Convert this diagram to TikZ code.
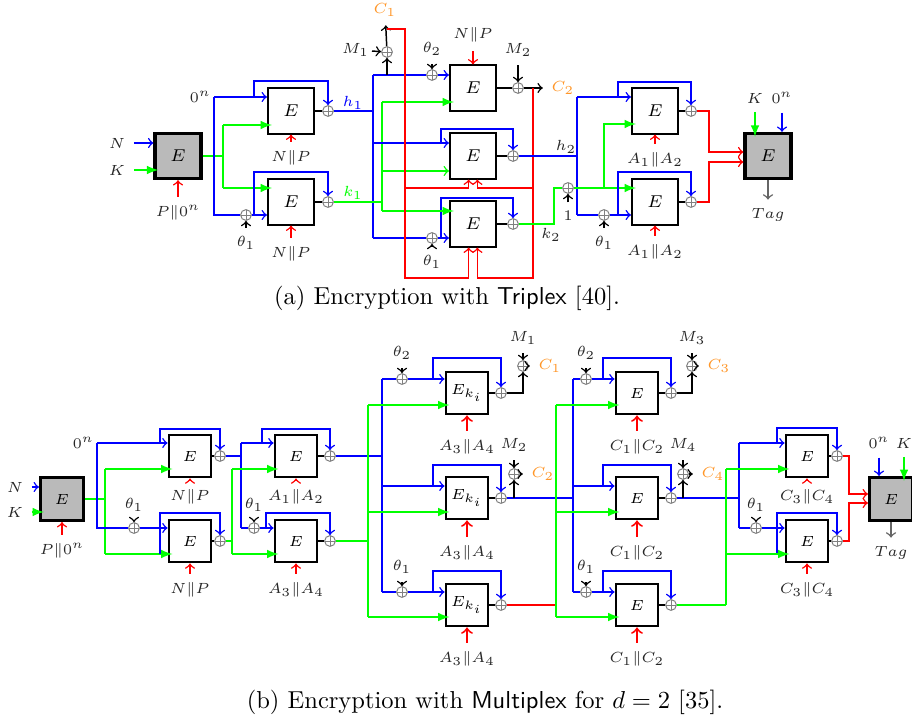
\documentclass[tikz,border=0pt]{standalone}
\definecolor{corange}{RGB}{255,150,40}
\begin{document}
\begin{tikzpicture}[x=0.408pt, y=-0.408pt, >=to, line cap=butt, line join=miter, semithick,
  blk/.style={draw, line width=0.8pt, fill=white, minimum width=18.8pt, minimum height=18.4pt, inner sep=0pt, font=\fontsize{7}{8}\selectfont},
  gblk/.style={blk, fill=black!27, line width=1.3pt},
  sblk/.style={blk, minimum width=17.5pt, minimum height=17.5pt, font=\fontsize{6.2}{7}\selectfont},
  gsblk/.style={sblk, fill=black!27, line width=1.3pt},
  xr/.style={circle, draw=gray, thin, inner sep=0pt, minimum size=4.4pt, path picture={\draw[gray, thin] (path picture bounding box.north) -- (path picture bounding box.south) (path picture bounding box.west) -- (path picture bounding box.east);}},
  lb/.style={text=black!85, font=\fontsize{6.5}{7.5}\selectfont},
  sl/.style={text=black!85, font=\fontsize{5.8}{6.5}\selectfont},
  bl/.style={blue}, gr/.style={green}, rd/.style={red},
  gi/.style={green, -latex, shorten >=-2pt}]
\useasboundingbox (0,0) rectangle (912,715);
% (a)
\node[gblk] (ga) at (178,156) {$E$};
\node[blk] (a1) at (291,111) {$E$};
\node[blk] (a2) at (291,202) {$E$};
\node[blk] (a3) at (473,88) {$E$};
\node[blk] (a4) at (473,156) {$E$};
\node[blk] (a5) at (473,224) {$E$};
\node[blk] (a6) at (655,111) {$E$};
\node[blk] (a7) at (655,202) {$E$};
\node[gblk] (gb) at (768,156) {$E$};
\node[xr] (xa1) at (328,111) {};
\node[xr] (xa2) at (328,202) {};
\node[xr] (xa3) at (246,215) {};
\node[xr] (xa4) at (387,52) {};
\node[xr] (xa5) at (432,75) {};
\node[xr] (xa6) at (518,88) {};
\node[xr] (xa7) at (513,156) {};
\node[xr] (xa8) at (513,224) {};
\node[xr] (xa9) at (432,238) {};
\node[xr] (xa10) at (568,188) {};
\node[xr] (xa11) at (691,111) {};
\node[xr] (xa12) at (691,202) {};
\node[xr] (xa13) at (604,215) {};
\node[lb] (la1) at (117,143) {$N$};
\node[lb] (la2) at (117,170) {$K$};
\node[lb] (la3) at (178,213) {$P\|0^n$};
\node[lb, anchor=east, inner sep=1pt] (la4) at (214,97) {$0^n$};
\node[lb] (la5) at (246,243) {$\theta_1$};
\node[lb] (la6) at (291,158) {$N\|P$};
\node[lb] (la7) at (291,254) {$N\|P$};
\node[lb, text=blue] (la8) at (353,103) {$h_1$};
\node[lb, text=green] (la9) at (353,193) {$k_1$};
\node[lb, anchor=east, inner sep=1pt] (la10) at (372,50) {$M_1$};
\node[lb, text=corange] (la11) at (385,10) {$C_1$};
\node[lb] (la12) at (432,49) {$\theta_2$};
\node[lb] (la13) at (473,35) {$N\|P$};
\node[lb] (la14) at (518,50) {$M_2$};
\node[lb, text=corange] (la15) at (563,88) {$C_2$};
\node[lb] (la16) at (432,262) {$\theta_1$};
\node[lb] (la17) at (566,147) {$h_2$};
\node[lb] (la18) at (551,235) {$k_2$};
\node[lb] (la19) at (568,216) {$1$};
\node[lb] (la20) at (604,243) {$\theta_1$};
\node[lb] (la21) at (655,160) {$A_1\|A_2$};
\node[lb] (la22) at (655,252) {$A_1\|A_2$};
\node[lb] (la23) at (755,98) {$K$};
\node[lb] (la24) at (782,98) {$0^n$};
\node[lb] (la25) at (768,215) {$Tag$};
\draw[bl,->] (la1) -- (la1 -| ga.west);
\draw[gi] (la2) -- (la2 -| ga.west);
\draw[rd,->] (la3) -- (ga);
\draw[gr] (ga.east) -- (223,156) (223,125) -- (223,188);
\draw[gi] (223,125) -- (a1.west |- 0,125);
\draw[gi] (223,188) -- (a2.west |- 0,188);
\draw[bl,->] (la4) -- (la4 -| a1.west);
\draw[bl] (214,97) |- (xa3);
\draw[bl,->] (xa3) -- (xa3 -| a2.west);
\draw[->] (la5) -- (xa3);
\draw[bl,->] (254,97) -- (254,81) -| (xa1);
\draw[bl,->] (254,215) -- (254,172) -| (xa2);
\draw (a1) -- (xa1) (a2) -- (xa2);
\draw[rd,->] (la6) -- (a1);
\draw[rd,->] (la7) -- (a2);
\draw[bl] (xa1) -- (373,111) (373,75) -- (373,238);
\draw[gr] (xa2) -- (382,202) (382,102) -- (382,211);
\draw[bl] (373,75) -- (xa5);
\draw[bl,->] (xa5) -- (xa5 -| a3.west);
\draw[->] (la12) -- (xa5);
\draw[->] (387,75) -- (xa4);
\draw[->] (la10) -- (xa4);
\draw[->] (xa4) -- (la11);
\draw[bl,->] (373,143) -- (a4.west |- 0,143);
\draw[bl,->] (441,143) -- (441,129) -| (xa7);
\draw[bl] (373,238) -- (xa9);
\draw[bl,->] (xa9) -- (xa9 -| a5.west);
\draw[->] (la16) -- (xa9);
\draw[bl,->] (441,238) -- (441,198) -| (xa8);
\draw[gi] (382,102) -- (a3.west |- 0,102);
\draw[gr,->] (382,171) -- (a4.west |- 0,171);
\draw[gi] (382,211) -- (a5.west |- 0,211);
\draw[rd,->] (la13) -- (a3);
\draw (a3) -- (xa6) (a4) -- (xa7) (a5) -- (xa8);
\draw[->] (la14) -- (xa6);
\draw[->] (xa6) -- (la15);
\draw[rd,->] (387,29) -| (405,278) -| ([xshift=-1.8pt]a5.south);
\draw[rd,->] (405,188) -| ([xshift=-1.8pt]a4.south);
\draw[rd,->] (533,88) -- (533,278) -| ([xshift=1.8pt]a5.south);
\draw[rd,->] (533,188) -| ([xshift=1.8pt]a4.south);
\draw[bl] (xa7) -- (577,156) (577,97) -- (577,215);
\draw[gr] (xa8) -- (554,224) |- (xa10);
\draw[->] (la19) -- (xa10);
\draw[gi] (xa10) -- (xa10 -| a7.west);
\draw[gi] (604,188) |- (a6.west |- 0,124);
\draw[bl,->] (577,97) -- (a6.west |- 0,97);
\draw[bl] (577,215) -- (xa13);
\draw[bl,->] (xa13) -- (xa13 -| a7.west);
\draw[->] (la20) -- (xa13);
\draw[bl,->] (618,97) -- (618,82) -| (xa11);
\draw[bl,->] (618,215) -- (618,172) -| (xa12);
\draw (a6) -- (xa11) (a7) -- (xa12);
\draw[rd,->] (la21) -- (a6);
\draw[rd,->] (la22) -- (a7);
\draw[rd,->] (xa11) -- (709,111) |- (gb.west |- 0,152);
\draw[rd,->] (xa12) -- (709,202) |- (gb.west |- 0,162);
\draw[gi] (la23) -- (la23 |- gb.north);
\draw[bl,->] (la24) -- (la24 |- gb.north);
\draw[black!60,->] (gb) -- (la25);
\node (capa) at (447,298) {(a) Encryption with \textsf{Triplex} [40].};
% (b)
\node[gsblk] (gc) at (62,499) {$E$};
\node[sblk] (b1) at (190,456) {$E$};
\node[sblk] (b2) at (190,541) {$E$};
\node[sblk] (b3) at (296,456) {$E$};
\node[sblk] (b4) at (296,541) {$E$};
\node[sblk] (b5) at (467,393) {$E_{k_i}$};
\node[sblk] (b6) at (467,498) {$E_{k_i}$};
\node[sblk] (b7) at (467,605) {$E_{k_i}$};
\node[sblk] (b8) at (637,393) {$E$};
\node[sblk] (b9) at (637,498) {$E$};
\node[sblk] (b10) at (637,605) {$E$};
\node[sblk] (b11) at (807,456) {$E$};
\node[sblk] (b12) at (807,541) {$E$};
\node[gsblk] (gd) at (891,499) {$E$};
\node[xr] (xb1) at (134,528) {};
\node[xr] (xb2) at (220,456) {};
\node[xr] (xb3) at (220,541) {};
\node[xr] (xb4) at (254,528) {};
\node[xr] (xb5) at (330,456) {};
\node[xr] (xb6) at (330,541) {};
\node[xr] (xb7) at (402,379) {};
\node[xr] (xb8) at (402,592) {};
\node[xr] (xb9) at (501,393) {};
\node[xr] (xb10) at (501,498) {};
\node[xr] (xb11) at (501,605) {};
\node[xr] (xb12) at (523,366) {};
\node[xr] (xb13) at (514,474) {};
\node[xr] (xb14) at (586,379) {};
\node[xr] (xb15) at (586,592) {};
\node[xr] (xb16) at (671,393) {};
\node[xr] (xb17) at (671,498) {};
\node[xr] (xb18) at (671,605) {};
\node[xr] (xb19) at (692,366) {};
\node[xr] (xb20) at (683,474) {};
\node[xr] (xb21) at (756,528) {};
\node[xr] (xb22) at (837,456) {};
\node[xr] (xb23) at (837,541) {};
\node[sl] (lb1) at (15,487) {$N$};
\node[sl] (lb2) at (15,512) {$K$};
\node[sl] (lb3) at (62,551) {$P\|0^n$};
\node[sl, anchor=east, inner sep=1pt] (lb4) at (97,443) {$0^n$};
\node[sl] (lb5) at (134,505) {$\theta_1$};
\node[sl] (lb6) at (190,497) {$N\|P$};
\node[sl] (lb7) at (190,590) {$N\|P$};
\node[sl] (lb8) at (254,505) {$\theta_1$};
\node[sl] (lb9) at (296,497) {$A_1\|A_2$};
\node[sl] (lb10) at (296,590) {$A_3\|A_4$};
\node[sl] (lb11) at (402,353) {$\theta_2$};
\node[sl] (lb12) at (402,567) {$\theta_1$};
\node[sl] (lb13) at (467,447) {$A_3\|A_4$};
\node[sl] (lb14) at (467,553) {$A_3\|A_4$};
\node[sl] (lb15) at (467,659) {$A_3\|A_4$};
\node[sl] (lb16) at (523,338) {$M_1$};
\node[sl, text=corange] (lb17) at (550,366) {$C_1$};
\node[sl] (lb18) at (514,445) {$M_2$};
\node[sl, text=corange] (lb19) at (543,474) {$C_2$};
\node[sl] (lb20) at (586,353) {$\theta_2$};
\node[sl] (lb21) at (586,567) {$\theta_1$};
\node[sl] (lb22) at (637,447) {$C_1\|C_2$};
\node[sl] (lb23) at (637,553) {$C_1\|C_2$};
\node[sl] (lb24) at (637,659) {$C_1\|C_2$};
\node[sl] (lb25) at (692,338) {$M_3$};
\node[sl, text=corange] (lb26) at (719,366) {$C_3$};
\node[sl] (lb27) at (683,445) {$M_4$};
\node[sl, text=corange] (lb28) at (713,474) {$C_4$};
\node[sl] (lb29) at (756,505) {$\theta_1$};
\node[sl] (lb30) at (807,497) {$C_3\|C_4$};
\node[sl] (lb31) at (807,590) {$C_3\|C_4$};
\node[sl] (lb32) at (879,443) {$0^n$};
\node[sl] (lb33) at (904,443) {$K$};
\node[sl] (lb34) at (891,553) {$Tag$};
\draw[bl,->] (lb1) -- (lb1 -| gc.west);
\draw[gi] (lb2) -- (lb2 -| gc.west);
\draw[rd,->] (lb3) -- (gc);
\draw[gr] (gc.east) -- (105,499) (105,469) -- (105,554);
\draw[gi] (105,469) -- (b1.west |- 0,469);
\draw[gi] (105,554) -- (b2.west |- 0,554);
\draw[bl,->] (lb4) -- (lb4 -| b1.west);
\draw[bl] (97,443) |- (xb1);
\draw[bl,->] (xb1) -- (xb1 -| b2.west);
\draw[->] (lb5) -- (xb1);
\draw[bl,->] (160,443) -- (160,429) -| (xb2);
\draw[bl,->] (160,554) -- (160,513) -| (xb3);
\draw (b1) -- (xb2) (b2) -- (xb3);
\draw[rd,->] (lb6) -- (b1);
\draw[rd,->] (lb7) -- (b2);
\draw[bl] (xb2) -- (241,456) (241,443) -- (241,528);
\draw[bl,->] (241,443) -- (b3.west |- 0,443);
\draw[bl] (241,528) -- (xb4);
\draw[bl,->] (xb4) -- (xb4 -| b4.west);
\draw[->] (lb8) -- (xb4);
\draw[gr] (xb3) -- (232,541) (232,469) -- (232,554);
\draw[gi] (232,469) -- (b3.west |- 0,469);
\draw[gi] (232,554) -- (b4.west |- 0,554);
\draw[bl,->] (262,443) -- (262,429) -| (xb5);
\draw[bl,->] (266,528) -- (266,513) -| (xb6);
\draw (b3) -- (xb5) (b4) -- (xb6);
\draw[rd,->] (lb9) -- (b3);
\draw[rd,->] (lb10) -- (b4);
\draw[bl] (xb5) -- (382,456) (382,379) -- (382,592);
\draw[gr] (xb6) -- (368,541) (368,405) -- (368,617);
\draw[bl] (382,379) -- (xb7);
\draw[bl,->] (xb7) -- (xb7 -| b5.west);
\draw[->] (lb11) -- (xb7);
\draw[bl,->] (382,486) -- (b6.west |- 0,486);
\draw[bl] (382,592) -- (xb8);
\draw[bl,->] (xb8) -- (xb8 -| b7.west);
\draw[->] (lb12) -- (xb8);
\draw[bl,->] (433,379) -- (433,358) -| (xb9);
\draw[bl,->] (433,486) -- (433,465) -| (xb10);
\draw[bl,->] (433,592) -- (433,571) -| (xb11);
\draw[gi] (368,405) -- (b5.west |- 0,405);
\draw[gi] (368,512) -- (b6.west |- 0,512);
\draw[gi] (368,617) -- (b7.west |- 0,617);
\draw (b5) -- (xb9) (b6) -- (xb10) (b7) -- (xb11);
\draw[rd,thick,->] (lb13) -- (b5);
\draw[rd,thick,->] (lb14) -- (b6);
\draw[rd,thick,->] (lb15) -- (b7);
\draw[->] (xb9) -| (xb12);
\draw[->] (lb16) -- (xb12);
\draw[->] (xb12) -- (lb17);
\draw[bl] (xb10) -- (573,498);
\draw[->] (514,498) -- (xb13);
\draw[->] (lb18) -- (xb13);
\draw[->] (xb13) -- (lb19);
\draw[rd] (xb11) -- (556,605);
\draw[bl] (573,379) -- (573,592);
\draw[gr] (556,405) -- (556,617);
\draw[bl] (573,379) -- (xb14);
\draw[bl,->] (xb14) -- (xb14 -| b8.west);
\draw[->] (lb20) -- (xb14);
\draw[bl,->] (573,486) -- (b9.west |- 0,486);
\draw[bl] (573,592) -- (xb15);
\draw[bl,->] (xb15) -- (xb15 -| b10.west);
\draw[->] (lb21) -- (xb15);
\draw[bl,->] (603,379) -- (603,358) -| (xb16);
\draw[bl,->] (603,486) -- (603,465) -| (xb17);
\draw[bl,->] (603,592) -- (603,571) -| (xb18);
\draw[gi] (556,405) -- (b8.west |- 0,405);
\draw[gi] (556,512) -- (b9.west |- 0,512);
\draw[gi] (556,617) -- (b10.west |- 0,617);
\draw (b8) -- (xb16) (b9) -- (xb17) (b10) -- (xb18);
\draw[rd,thick,->] (lb22) -- (b8);
\draw[rd,thick,->] (lb23) -- (b9);
\draw[rd,thick,->] (lb24) -- (b10);
\draw[->] (xb16) -| (xb19);
\draw[->] (lb25) -- (xb19);
\draw[->] (xb19) -- (lb26);
\draw[bl] (xb17) -- (739,498);
\draw[->] (683,498) -- (xb20);
\draw[->] (lb27) -- (xb20);
\draw[->] (xb20) -- (lb28);
\draw[gr] (xb18) -- (726,605);
\draw[bl] (739,443) -- (739,528);
\draw[gr] (726,469) -- (726,605);
\draw[bl,->] (739,443) -- (b11.west |- 0,443);
\draw[bl] (739,528) -- (xb21);
\draw[bl,->] (xb21) -- (xb21 -| b12.west);
\draw[->] (lb29) -- (xb21);
\draw[bl,->] (777,443) -- (777,428) -| (xb22);
\draw[bl,->] (777,554) -- (777,513) -| (xb23);
\draw[gi] (726,469) -- (b11.west |- 0,469);
\draw[gi] (726,554) -- (b12.west |- 0,554);
\draw (b11) -- (xb22) (b12) -- (xb23);
\draw[rd,->] (lb30) -- (b11);
\draw[rd,->] (lb31) -- (b12);
\draw[rd,->] (xb22) -- (849,456) |- (gd.west |- 0,494);
\draw[rd,->] (xb23) -- (849,541) |- (gd.west |- 0,503);
\draw[bl,->] (lb32) -- (lb32 |- gd.north);
\draw[gi] (lb33) -- (lb33 |- gd.north);
\draw[black!60,->] (gd) -- (lb34);
\node (capb) at (485,702) {(b) Encryption with \textsf{Multiplex} for $d=2$ [35].};
\end{tikzpicture}
\end{document}
